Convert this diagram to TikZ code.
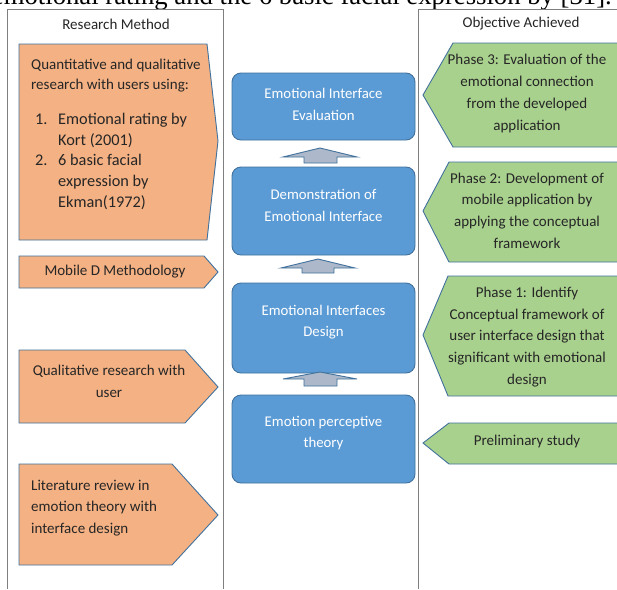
\documentclass[tikz,border=0pt]{standalone}
\usepackage{fontspec}
\setmainfont{Carlito}
\newfontfamily\capfont{Liberation Serif}
\definecolor{orfill}{HTML}{F4B183}
\definecolor{grfill}{HTML}{A9D18E}
\definecolor{blfill}{HTML}{5B9BD5}
\definecolor{bdr}{HTML}{41719C}
\definecolor{arrfill}{HTML}{ADB9CA}
\definecolor{panel}{HTML}{7F7F7F}
\begin{document}
\begin{tikzpicture}[x=1pt,y=-1pt,
  txt/.style={font=\fontsize{15}{21.7}\selectfont, inner sep=0pt, text=black!85},
  bigtxt/.style={font=\fontsize{16.3}{21}\selectfont, inner sep=0pt, text=black!85},
  wtxt/.style={font=\fontsize{14.8}{21.5}\selectfont, inner sep=0pt, text=white, align=center},
  orshape/.style={fill=orfill, draw=bdr, line width=0.9pt},
  grshape/.style={fill=grfill, draw=bdr, line width=0.9pt},
  blbox/.style={fill=blfill, draw=bdr, line width=0.9pt, rounded corners=9pt},
  uparrow/.style={fill=arrfill, draw=bdr, line width=0.9pt},
  panelline/.style={draw=panel, line width=0.8pt}]
\useasboundingbox (0,0) rectangle (617,589);
\fill[white] (0,0) rectangle (617,589);
% caption (cut off at the top edge)
\begin{scope}
\clip (0,0) rectangle (617,589);
\node[anchor=base east, inner sep=0pt, font=\capfont\fontsize{26.7}{26.7}\selectfont] (cap) at (612,4.5) {emotional rating and the 6 basic facial expression by [31].};
\end{scope}
% panels
\draw[panelline] (7,589) -- (7,9) -- (223,9) -- (223,589);
\draw[panelline] (418,589) -- (418,9) -- (620,9);
\node[txt] (rm) at (116,24) {Research Method};
\node[txt] (oa) at (521,24) {Objective Achieved};
% left shapes
\draw[orshape] (19,44) -- (207,44) -- (218,141) -- (207,240) -- (19,240) -- cycle;
\node[txt, anchor=mid west] (q1) at (31,67) {Quantitative and qualitative};
\node[txt, anchor=mid west] (q2) at (31,87) {research with users using:};
\node[bigtxt, anchor=mid west] (n1) at (35,122) {1.};
\node[bigtxt, anchor=mid west] (l1) at (58,122) {Emotional rating by};
\node[bigtxt, anchor=mid west] (l2) at (58,143) {Kort (2001)};
\node[bigtxt, anchor=mid west] (n2) at (35,163) {2.};
\node[bigtxt, anchor=mid west] (l3) at (58,163) {6 basic facial};
\node[bigtxt, anchor=mid west] (l4) at (58,184) {expression by};
\node[bigtxt, anchor=mid west] (l5) at (58,205) {Ekman(1972)};

\draw[orshape] (19,256) -- (204,256) -- (218,272) -- (204,288) -- (19,288) -- cycle;
\node[txt] (mob) at (115,272) {Mobile D Methodology};

\draw[orshape] (19,350) -- (185,350) -- (218,387) -- (185,423) -- (19,423) -- cycle;
\node[txt, align=center] (qual) at (109,381) {Qualitative research with\\user};

\draw[orshape] (19,464) -- (172,464) -- (218,515) -- (172,565) -- (19,565) -- cycle;
\node[txt, align=left, anchor=west] (lit) at (31,508) {Literature review in\\emotion theory with\\interface design};

% middle boxes
\draw[blbox] (232,73) rectangle (415,140);
\node[wtxt] (eval) at (323.5,104.5) {Emotional Interface\\Evaluation};
\draw[blbox] (232,167) rectangle (415,255);
\node[wtxt] (demo) at (323.5,205.5) {Demonstration of\\Emotional Interface};
\draw[blbox] (232,283) rectangle (415,373);
\node[wtxt] (design) at (323.5,322) {Emotional Interfaces\\Design};
\draw[blbox] (232,395) rectangle (415,483);
\node[wtxt] (theory) at (323.5,433) {Emotion perceptive\\theory};

% block arrows
\draw[uparrow] (304,163) -- (304,157) -- (283,157) -- (320,148) -- (357,157) -- (337,157) -- (337,163) -- cycle;
\draw[uparrow] (302,273) -- (302,268) -- (281,268) -- (318,259) -- (355,268) -- (334,268) -- (334,273) -- cycle;
\draw[uparrow] (304,386) -- (304,379) -- (283,379) -- (320,372) -- (357,379) -- (337,379) -- (337,386) -- cycle;

% right shapes
\draw[grshape] (622,43) -- (453,43) -- (423,95) -- (453,147) -- (622,147);
\node[txt, align=center] (ph3) at (527,93.5) {Phase 3: Evaluation of the\\emotional connection\\from the developed\\application};
\draw[grshape] (622,162) -- (449,162) -- (423,211) -- (449,262) -- (622,262);
\node[txt, align=center] (ph2) at (527,210.5) {Phase 2: Development of\\mobile application by\\applying the conceptual\\framework};
\draw[grshape] (622,276) -- (448,276) -- (423,335) -- (448,396) -- (622,396);
\node[txt, align=center] (ph1) at (527,337) {Phase 1: Identify\\Conceptual framework of\\user interface design that\\significant with emotional\\design};
\draw[grshape] (622,423) -- (449,423) -- (423,443) -- (449,464) -- (622,464);
\node[txt] (pre) at (527,441) {Preliminary study};
\end{tikzpicture}
\end{document}
